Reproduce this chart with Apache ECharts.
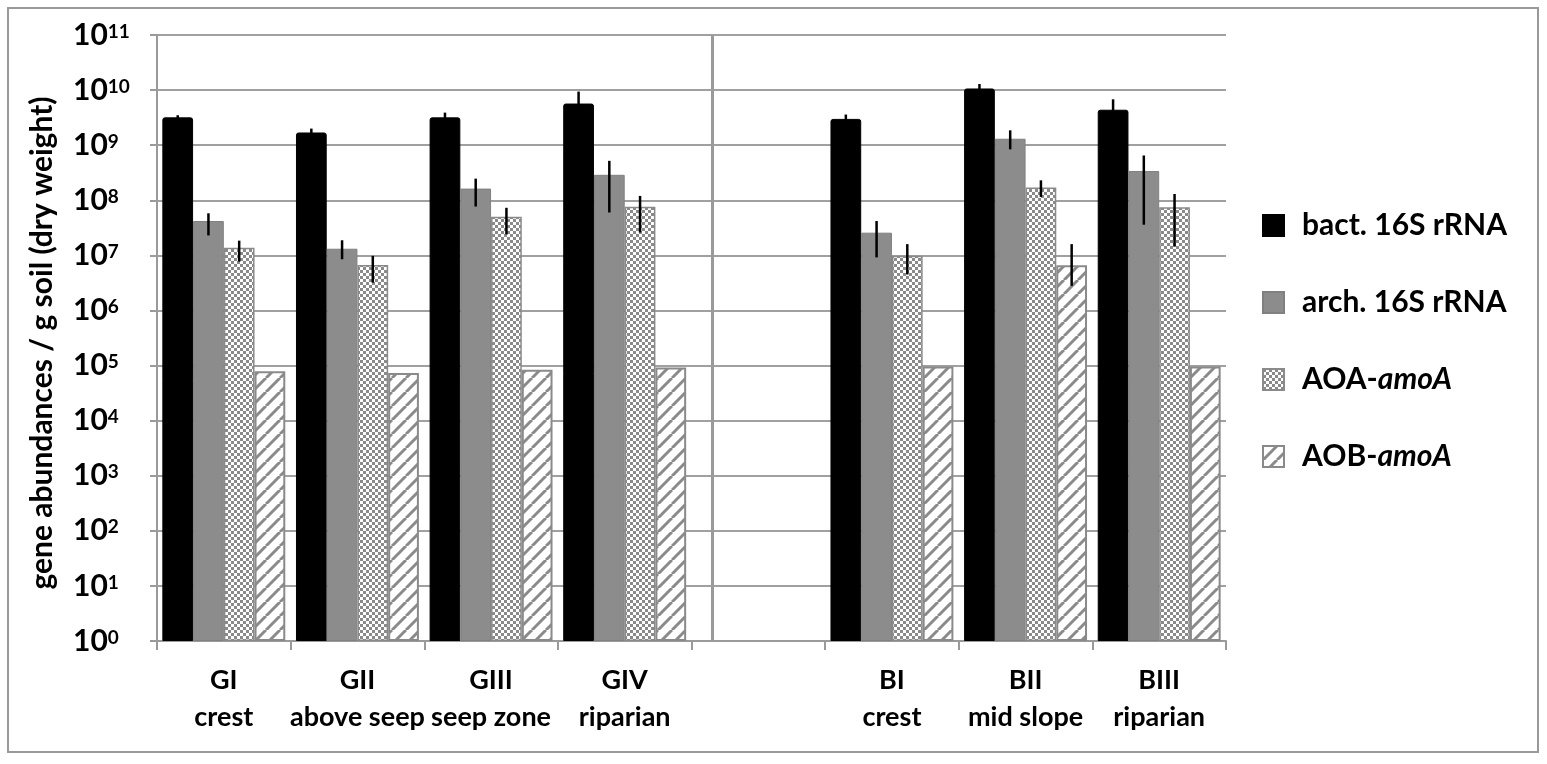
<!DOCTYPE html>
<html>
<head>
<meta charset="utf-8">
<script src="https://cdn.jsdelivr.net/npm/echarts@6/dist/echarts.min.js"></script>
<style>
html,body{margin:0;padding:0;background:#fff;}
#chart{width:1547px;height:764px;}
</style>
</head>
<body>
<div id="chart"></div>
<script>
// ---- data ----
const categories = ['GI\ncrest', 'GII\nabove seep', 'GIII\nseep zone', 'GIV\nriparian', '', 'BI\ncrest', 'BII\nmid slope', 'BIII\nriparian'];
const seriesNames = ['bact. 16S rRNA', 'arch. 16S rRNA', 'AOA-amoA', 'AOB-amoA'];

const bactVals = [3.2e9, 1.7e9, 3.2e9, 5.7e9, null, 3.0e9, 1.07e10, 4.4e9];
const bactHigh = [3.5e9, 2.0e9, 3.9e9, 9.4e9, null, 3.6e9, 1.29e10, 6.8e9];
const bactLow  = [2.9e9, 1.4e9, 2.5e9, 2.0e9, null, 2.4e9, 8.5e9, 2.0e9];

const archVals = [4.2e7, 1.32e7, 1.63e8, 2.9e8, null, 2.58e7, 1.31e9, 3.4e8];
const archHigh = [5.8e7, 1.88e7, 2.47e8, 5.2e8, null, 4.2e7, 1.86e9, 6.5e8];
const archLow  = [2.3e7, 8.5e6, 7.7e7, 6.0e7, null, 9.2e6, 8.4e8, 3.6e7];

const aoaVals = [1.38e7, 6.7e6, 5.0e7, 7.6e7, null, 9.8e6, 1.7e8, 7.5e7];
const aoaHigh = [1.85e7, 9.8e6, 7.3e7, 1.2e8, null, 1.6e7, 2.3e8, 1.3e8];
const aoaLow  = [7.7e6, 3.2e6, 2.4e7, 2.6e7, null, 4.5e6, 1.15e8, 1.44e7];

const aobVals = [7.9e4, 7.3e4, 8.4e4, 9.2e4, null, 9.6e4, 6.6e6, 9.6e4];
const aobHigh = [null, null, null, null, null, null, 1.6e7, null];
const aobLow  = [null, null, null, null, null, null, 2.8e6, null];

const yAxisTitle = 'gene abundances / g soil (dry weight)';

// ---- patterns ----
function checkerPattern() {
  const c = document.createElement('canvas');
  c.width = 6; c.height = 6;
  const g = c.getContext('2d');
  g.fillStyle = '#ffffff'; g.fillRect(0, 0, 6, 6);
  g.fillStyle = '#8a8a8a';
  g.fillRect(0, 0, 3, 3); g.fillRect(3, 3, 3, 3);
  return c;
}
function stripePattern() {
  const s = 14;
  const c = document.createElement('canvas');
  c.width = s; c.height = s;
  const g = c.getContext('2d');
  g.fillStyle = '#ffffff'; g.fillRect(0, 0, s, s);
  g.strokeStyle = '#8a8a8a'; g.lineWidth = 3;
  for (let k = -1; k <= 1; k++) {
    g.beginPath();
    g.moveTo(k * s, s); g.lineTo(k * s + s, 0);
    g.stroke();
  }
  return c;
}

const FONT = 'Lato, "Open Sans", sans-serif';
const gapRatio = 0.08;

function errData(lo, hi) {
  const out = [];
  for (let i = 0; i < hi.length; i++) {
    if (hi[i] != null && lo[i] != null) out.push([i, lo[i], hi[i]]);
  }
  return out;
}
function errSeries(idx, lo, hi) {
  return {
    type: 'custom',
    name: 'err' + idx,
    z: 5,
    silent: true,
    encode: { x: 0, y: [1, 2] },
    data: errData(lo, hi),
    renderItem: function (params, api) {
      const x = api.value(0);
      const top = api.coord([x, api.value(2)]);
      const bot = api.coord([x, api.value(1)]);
      const band = api.size([1, 1])[0];
      const total = band * (1 - gapRatio);
      const bw = total / 4;
      const cx = top[0] - total / 2 + bw * (idx + 0.5);
      return {
        type: 'line',
        shape: { x1: cx, y1: top[1], x2: cx, y2: bot[1] },
        style: { stroke: '#000', lineWidth: 2.5 }
      };
    }
  };
}

const chart = echarts.init(document.getElementById('chart'), null, { renderer: 'canvas' });

const legendRich = {
  b: { fontFamily: FONT, fontWeight: 'bold', fontSize: 30, color: '#000' },
  i: { fontFamily: FONT, fontWeight: 'bold', fontStyle: 'italic', fontSize: 30, color: '#000' }
};

const option = {
  animation: false,
  backgroundColor: '#fff',
  grid: { left: 157, top: 35, right: 321, bottom: 123, containLabel: false },
  legend: {
    orient: 'vertical',
    left: 1257,
    top: 205,
    itemWidth: 21,
    itemHeight: 21,
    itemGap: 46,
    icon: 'rect',
    data: seriesNames,
    formatter: function (name) {
      if (name.indexOf('-amoA') > 0) {
        return '{b|' + name.replace('amoA', '') + '}{i|amoA}';
      }
      return '{b|' + name + '}';
    },
    textStyle: { fontFamily: FONT, fontWeight: 'bold', fontSize: 30, color: '#000', lineHeight: 31, padding: [0, 0, 0, 13], rich: legendRich }
  },
  graphic: [
    {
      type: 'rect',
      shape: { x: 8, y: 8, width: 1530, height: 744 },
      style: { fill: 'none', stroke: '#9a9a9a', lineWidth: 2 },
      z: -1, silent: true
    },
    {
      type: 'text',
      x: 42, y: 343,
      rotation: Math.PI / 2,
      style: {
        text: yAxisTitle,
        fontFamily: FONT, fontWeight: 'bold', fontSize: 30, fill: '#000',
        align: 'center', verticalAlign: 'middle'
      },
      silent: true
    }
  ],
  xAxis: {
    type: 'category',
    data: categories,
    boundaryGap: true,
    axisLine: { show: true, lineStyle: { color: '#9a9a9a', width: 2 } },
    axisTick: { show: true, length: 9, lineStyle: { color: '#9a9a9a', width: 2 } },
    axisLabel: {
      interval: 0,
      margin: 21,
      fontFamily: FONT, fontWeight: 'bold', fontSize: 27, lineHeight: 37, color: '#000'
    },
    splitLine: { show: false }
  },
  yAxis: {
    type: 'log',
    logBase: 10,
    min: 1,
    max: 1e11,
    interval: 1,
    splitNumber: 11,
    axisLine: { show: true, lineStyle: { color: '#9a9a9a', width: 2 } },
    axisTick: { show: true, length: 7, lineStyle: { color: '#9a9a9a', width: 2 } },
    splitLine: { show: true, lineStyle: { color: '#a0a0a0', width: 2 } },
    axisLabel: {
      align: 'left',
      margin: 84,
      formatter: function (v) {
        const e = Math.round(Math.log10(v));
        return '{a|10}{s|' + e + '}';
      },
      rich: {
        a: { fontFamily: FONT, fontWeight: 'bold', fontSize: 30, color: '#000', verticalAlign: 'bottom' },
        s: { fontFamily: FONT, fontWeight: 'bold', fontSize: 19, color: '#000', verticalAlign: 'bottom', padding: [0, 0, 9, 0] }
      }
    }
  },
  series: [
    {
      name: seriesNames[0], type: 'bar', data: bactVals,
      barGap: '0%', barCategoryGap: (gapRatio * 100) + '%',
      itemStyle: { color: '#000', borderColor: '#000', borderWidth: 1, borderRadius: [2, 2, 0, 0] },
      markLine: {
        silent: true, symbol: 'none', label: { show: false },
        lineStyle: { color: '#9a9a9a', width: 3, type: 'solid' },
        data: [{ xAxis: 4 }]
      }
    },
    {
      name: seriesNames[1], type: 'bar', data: archVals,
      barGap: '0%', barCategoryGap: (gapRatio * 100) + '%',
      itemStyle: { color: '#8c8c8c', borderColor: '#808080', borderWidth: 1 }
    },
    {
      name: seriesNames[2], type: 'bar', data: aoaVals,
      barGap: '0%', barCategoryGap: (gapRatio * 100) + '%',
      itemStyle: { color: { image: checkerPattern(), repeat: 'repeat' }, borderColor: '#8a8a8a', borderWidth: 1.5 }
    },
    {
      name: seriesNames[3], type: 'bar', data: aobVals,
      barGap: '0%', barCategoryGap: (gapRatio * 100) + '%',
      itemStyle: { color: { image: stripePattern(), repeat: 'repeat' }, borderColor: '#8a8a8a', borderWidth: 2 }
    },
    errSeries(0, bactLow, bactHigh),
    errSeries(1, archLow, archHigh),
    errSeries(2, aoaLow, aoaHigh),
    errSeries(3, aobLow, aobHigh)
  ]
};
chart.setOption(option);
</script>
</body>
</html>
